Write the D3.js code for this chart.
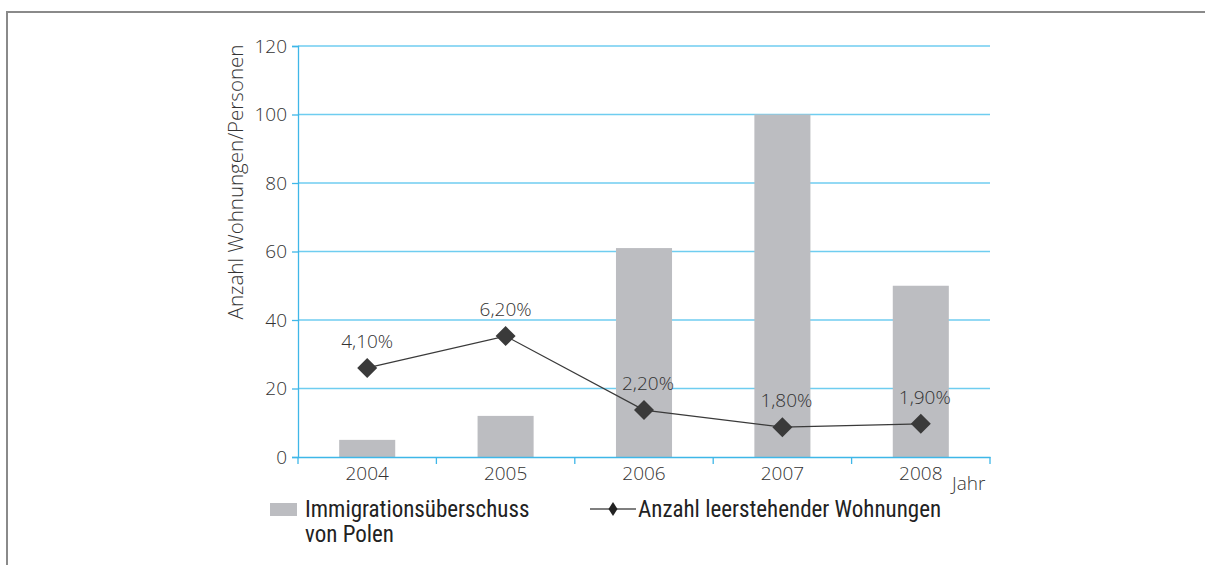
<!DOCTYPE html>
<html><head><meta charset="utf-8">
<script src="https://cdn.jsdelivr.net/npm/d3@7"></script>
<style>body{margin:0;background:#fff}svg{display:block}</style>
</head><body>
<svg id="c" width="1205" height="565"></svg>
<script>
const years = ["2004","2005","2006","2007","2008"];
const immigration = [5, 12, 61, 100, 50];
const vacancies = [26, 35.3, 13.7, 8.7, 9.7];
const vacancyLabels = ["4,10%","6,20%","2,20%","1,80%","1,90%"];
const yTicks = [0,20,40,60,80,100,120];

const svg = d3.select("#c");
const blue = "#3fb7e8", grid = "#6fcdf0";
const tickFont = "'Open Sans', sans-serif";
const legFont = "'Liberation Sans Narrow', 'Roboto Condensed', 'Liberation Sans', sans-serif";
const fs = 19;

// frame
svg.append("path").attr("d","M7,580 V12 H1220").attr("fill","none").attr("stroke","#8a8a8a").attr("stroke-width",2);

const x = d3.scaleBand().domain(years).range([298,990]).paddingInner(0).paddingOuter(0);
const y = d3.scaleLinear().domain([0,120]).range([457,46]);

// gridlines
svg.append("g").selectAll("line").data(yTicks.filter(d=>d>0)).join("line")
  .attr("x1",298).attr("x2",990).attr("y1",d=>y(d)).attr("y2",d=>y(d))
  .attr("stroke",grid).attr("stroke-width",1.3);

// bars
const bw = x.bandwidth()*0.405;
svg.append("g").selectAll("rect").data(years).join("rect")
  .attr("x",d=>x(d)+x.bandwidth()/2-bw/2).attr("width",bw)
  .attr("y",(d,i)=>y(immigration[i])).attr("height",(d,i)=>y(0)-y(immigration[i]))
  .attr("fill","#bcbdc1");

// y axis
const ya = svg.append("g").attr("transform","translate(298,0)")
  .call(d3.axisLeft(y).tickValues(yTicks).tickSize(6).tickPadding(5));
ya.select(".domain").attr("stroke",blue).attr("stroke-width",1.3);
ya.selectAll(".tick line").attr("stroke",blue).attr("stroke-width",1.3);
ya.selectAll("text").attr("font-family",tickFont).attr("font-size",fs).attr("font-weight",300).attr("fill","#333");

// x axis
const xa = svg.append("g").attr("transform","translate(0,457)")
  .call(d3.axisBottom(x).tickSize(0).tickPadding(10));
xa.select(".domain").attr("stroke",blue).attr("stroke-width",1.5);
xa.selectAll("text").attr("font-family",tickFont).attr("font-size",fs).attr("font-weight",300).attr("fill","#333");
// boundary ticks
const bounds = years.map(d=>x(d)).concat([x.range()[1]]);
svg.append("g").selectAll("line").data(bounds).join("line")
  .attr("x1",d=>d).attr("x2",d=>d).attr("y1",457).attr("y2",464)
  .attr("stroke",blue).attr("stroke-width",1.3);

svg.append("text").attr("x",952).attr("y",490).text("Jahr")
  .attr("font-family",tickFont).attr("font-size",fs).attr("font-weight",300).attr("fill","#333");

svg.append("text").attr("transform","translate(243,182) rotate(-90)").attr("text-anchor","middle")
  .text("Anzahl Wohnungen/Personen")
  .attr("font-family",tickFont).attr("font-size",20.5).attr("font-weight",300).attr("fill","#333");

// line
const cx = d=>x(d)+x.bandwidth()/2;
const line = d3.line().x((d,i)=>cx(years[i])).y(d=>y(d));
svg.append("path").datum(vacancies).attr("d",line).attr("fill","none").attr("stroke","#3a3a3a").attr("stroke-width",1.3);
svg.append("g").selectAll("path").data(vacancies).join("path")
  .attr("transform",(d,i)=>`translate(${cx(years[i])},${y(d)}) rotate(45)`)
  .attr("d",d3.symbol().type(d3.symbolSquare).size(200)).attr("fill","#3a3a3a");
svg.append("g").selectAll("text").data(vacancies).join("text")
  .attr("x",(d,i)=>cx(years[i])+(i>=2?4:0)).attr("y",d=>y(d)-20).attr("text-anchor","middle")
  .text((d,i)=>vacancyLabels[i])
  .attr("font-family",tickFont).attr("font-size",fs).attr("font-weight",300).attr("fill","#333");

// legend
svg.append("rect").attr("x",270).attr("y",503).attr("width",27).attr("height",13).attr("fill","#bcbdc1");
const lt = svg.append("text").attr("font-family",legFont).attr("font-size",23).attr("fill","#222");
lt.append("tspan").attr("x",305).attr("y",517).text("Immigrationsüberschuss");
lt.append("tspan").attr("x",305).attr("y",542).text("von Polen");
svg.append("line").attr("x1",590).attr("x2",636).attr("y1",509).attr("y2",509).attr("stroke","#555").attr("stroke-width",1.3);
svg.append("path").attr("transform","translate(613,509)").attr("d","M0,-7L4.5,0L0,7L-4.5,0Z").attr("fill","#222");
svg.append("text").attr("x",638).attr("y",517).attr("font-family",legFont).attr("font-size",23).attr("fill","#222")
  .text("Anzahl leerstehender Wohnungen");
</script>
</body></html>
